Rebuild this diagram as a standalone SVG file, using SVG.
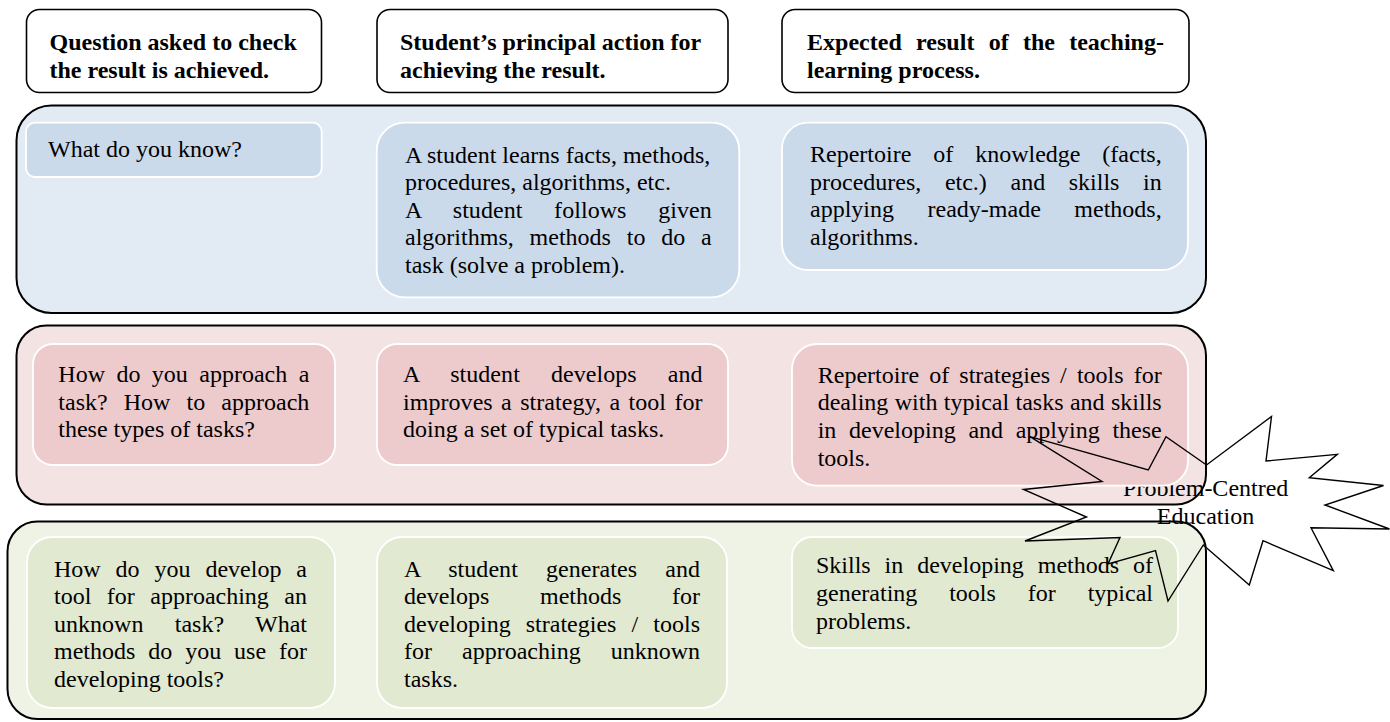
<svg xmlns="http://www.w3.org/2000/svg" width="1390" height="722" viewBox="0 0 1390 722">
<style>
.hdr{fill:#fff;stroke:#000;stroke-width:1.6}
.ob{stroke:#000;stroke-width:2}
.ib{stroke:#fff;stroke-width:1.8}
.blueO{fill:#e2eaf4}.blueI{fill:#cbdaeb}
.pinkO{fill:#f4e3e3}.pinkI{fill:#edcbcd}
.greenO{fill:#eff3e6}.greenI{fill:#e2e9d1}
text{font-family:"Liberation Serif","Times New Roman",serif;font-size:24px;fill:#000}
.b{font-weight:bold}
.star{fill:none;stroke:#000;stroke-width:1.4;stroke-linejoin:miter}
</style>
<defs>
<clipPath id="starClip">
<path clip-rule="evenodd" d="M1000 400 H1390 V640 H1000 Z M817 343 H1164 A25 25 0 0 1 1189 368 V461.7 A25 25 0 0 1 1164 486.7 H817 A25 25 0 0 1 791 461.7 V368 A25 25 0 0 1 817 343 Z"/>
</clipPath>
</defs>

<g id="header-question">
<rect class="hdr" x="26.5" y="9.5" width="295" height="83" rx="13"/>
<text class="b" x="49.5" y="50">Question asked to check</text>
<text class="b" x="49.5" y="77.5">the result is achieved.</text>
</g>
<g id="header-action">
<rect class="hdr" x="377" y="9.5" width="351" height="83" rx="13"/>
<text class="b" x="400" y="50">Student’s principal action for</text>
<text class="b" x="400" y="77.5">achieving the result.</text>
</g>
<g id="header-result">
<rect class="hdr" x="782" y="9.5" width="407" height="83" rx="13"/>
<text class="b" x="807" y="50" textLength="357" lengthAdjust="spacing" word-spacing="8.2">Expected result of the teaching-</text>
<text class="b" x="807" y="77.5">learning process.</text>
</g>

<g id="row-knowledge">
<rect class="ob blueO" x="16.5" y="105.5" width="1189.5" height="207.5" rx="35"/>
<g id="k-question">
<rect class="ib blueI" x="26" y="122.7" width="295.7" height="54.3" rx="9"/>
<text x="48" y="156.5">What do you know?</text>
</g>
<g id="k-action">
<rect class="ib blueI" x="376.7" y="122.7" width="362.6" height="174.6" rx="28"/>
<text x="405" y="162.5">A student learns facts, methods,</text>
<text x="405" y="190.1">procedures, algorithms, etc.</text>
<text x="405" y="217.7" textLength="306.7" lengthAdjust="spacing" word-spacing="25.6">A student follows given</text>
<text x="405" y="245.3" textLength="306.7" lengthAdjust="spacing" word-spacing="9.8">algorithms, methods to do a</text>
<text x="405" y="272.9">task (solve a problem).</text>
</g>
<g id="k-result">
<rect class="ib blueI" x="782" y="122.7" width="406" height="147.3" rx="26"/>
<text x="810" y="162" textLength="351.7" lengthAdjust="spacing" word-spacing="15.9">Repertoire of knowledge (facts,</text>
<text x="810" y="189.6" textLength="351.7" lengthAdjust="spacing" word-spacing="17.6">procedures, etc.) and skills in</text>
<text x="810" y="217.2" textLength="351.7" lengthAdjust="spacing" word-spacing="27.5">applying ready-made methods,</text>
<text x="810" y="244.8">algorithms.</text>
</g>
</g>

<g id="row-strategy">
<rect class="ob pinkO" x="16.5" y="325.5" width="1189.5" height="179" rx="30"/>
<g id="s-question">
<rect class="ib pinkI" x="33" y="344" width="302" height="121" rx="20"/>
<text x="58.3" y="382" textLength="251" lengthAdjust="spacing" word-spacing="5.4">How do you approach a</text>
<text x="58.3" y="409.6" textLength="251" lengthAdjust="spacing" word-spacing="10.1">task? How to approach</text>
<text x="58.3" y="437.2">these types of tasks?</text>
</g>
<g id="s-action">
<rect class="ib pinkI" x="377" y="344" width="351" height="121" rx="20"/>
<text x="403" y="382" textLength="299.5" lengthAdjust="spacing" word-spacing="25">A student develops and</text>
<text x="403" y="409.6" textLength="299.5" lengthAdjust="spacing" word-spacing="2.3">improves a strategy, a tool for</text>
<text x="403" y="437.2">doing a set of typical tasks.</text>
</g>
<g id="s-result">
<rect class="ib pinkI" x="792" y="344" width="396" height="141.7" rx="25"/>
<text x="817.7" y="382.7" textLength="344" lengthAdjust="spacing" word-spacing="4.1">Repertoire of strategies / tools for</text>
<text x="817.7" y="410.3" textLength="344" lengthAdjust="spacing" word-spacing="0.4">dealing with typical tasks and skills</text>
<text x="817.7" y="437.9" textLength="344" lengthAdjust="spacing" word-spacing="6.7">in developing and applying these</text>
<text x="817.7" y="465.5">tools.</text>
</g>
</g>

<g id="row-method">
<rect class="ob greenO" x="7.5" y="521.5" width="1198.5" height="197.5" rx="30"/>
<g id="m-question">
<rect class="ib greenI" x="27" y="537" width="308" height="171" rx="25"/>
<text x="54" y="576.5" textLength="253" lengthAdjust="spacing" word-spacing="8.9">How do you develop a</text>
<text x="54" y="604.1" textLength="253" lengthAdjust="spacing" word-spacing="9.5">tool for approaching an</text>
<text x="54" y="631.7" textLength="253" lengthAdjust="spacing" word-spacing="25.2">unknown task? What</text>
<text x="54" y="659.3" textLength="253" lengthAdjust="spacing" word-spacing="6.9">methods do you use for</text>
<text x="54" y="686.9">developing tools?</text>
</g>
<g id="m-action">
<rect class="ib greenI" x="377" y="537" width="350" height="171" rx="25"/>
<text x="404" y="576.5" textLength="296" lengthAdjust="spacing" word-spacing="22">A student generates and</text>
<text x="404" y="604.1" textLength="296" lengthAdjust="spacing" word-spacing="44.7">develops methods for</text>
<text x="404" y="631.7" textLength="296" lengthAdjust="spacing" word-spacing="9.1">developing strategies / tools</text>
<text x="404" y="659.3" textLength="296" lengthAdjust="spacing" word-spacing="24">for approaching unknown</text>
<text x="404" y="686.9">tasks.</text>
</g>
<g id="m-result">
<rect class="ib greenI" x="792" y="537" width="386" height="111" rx="20"/>
<text x="816" y="573.3" textLength="337" lengthAdjust="spacing" word-spacing="7.9">Skills in developing methods of</text>
<text x="816" y="600.9" textLength="337" lengthAdjust="spacing" word-spacing="25.9">generating tools for typical</text>
<text x="816" y="628.5">problems.</text>
</g>
</g>

<g id="problem-centred-education">
<g clip-path="url(#starClip)">
<text x="1205.7" y="496" text-anchor="middle">Problem-Centred</text>
<text x="1205.5" y="523.5" text-anchor="middle">Education</text>
</g>
<polygon class="star" points="1030,436.7 1148.3,470 1166,436.7 1206.5,465 1271.5,416.5 1266,461 1337.3,454.3 1309.3,477.7 1383.5,485.5 1325,505 1389.5,529 1311,527.7 1333.3,570.7 1263,540.7 1249.3,585 1203.3,545 1168,601 1155.5,550.5 1108,564 1120,537.5 1025,541 1086.5,517 1023.5,489.5 1102,481.5"/>
</g>
</svg>
